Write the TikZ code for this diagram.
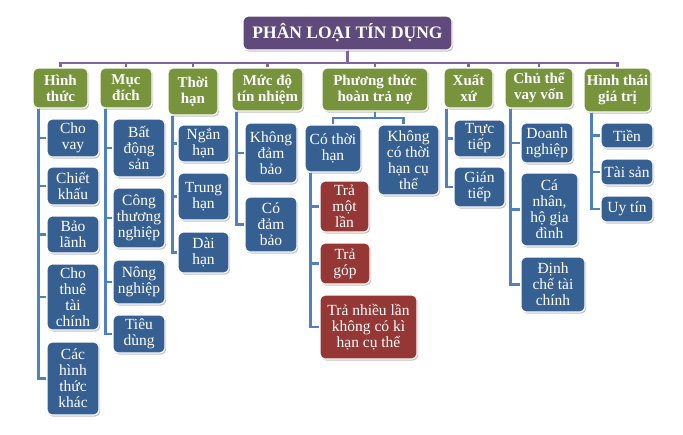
\documentclass[tikz,border=0pt]{standalone}
\usepackage{fontspec}
\setmainfont{Liberation Serif}
\usetikzlibrary{shadows}
\definecolor{ttl}{HTML}{604A7B}
\definecolor{grn}{HTML}{77933C}
\definecolor{blu}{HTML}{376092}
\definecolor{redbox}{HTML}{953735}
\definecolor{lnb}{HTML}{4F81BD}
\definecolor{lnp}{HTML}{8064A2}
\begin{document}
\begin{tikzpicture}[x=1pt,y=-1pt,
  box/.style={draw=white, line width=1.2pt, rounded corners=5pt, text=white, align=center, inner sep=1pt,
    drop shadow={shadow xshift=1.2pt, shadow yshift=-1.5pt, opacity=0.35, fill=black!70}},
  sz/.style 2 args={minimum width=#1pt, minimum height=#2pt},
  titlebox/.style={box, fill=ttl, font=\bfseries\fontsize{17.5}{20}\selectfont},
  catbox/.style={box, fill=grn, font=\bfseries\fontsize{15}{16}\selectfont},
  subbox/.style={box, fill=blu, font=\fontsize{15.5}{16}\selectfont},
  redsub/.style={box, fill=redbox, font=\fontsize{15.5}{16}\selectfont},
  pl/.style={draw=lnp, line width=2.2pt},
  bl/.style={draw=lnb, line width=2.2pt}
]
\useasboundingbox[fill=white] (0,0) rectangle (683,434);

% title and categories
\node[titlebox, sz={209}{34}] (title) at (347.5,33) {PHÂN LOẠI TÍN DỤNG};
\node[catbox, sz={55}{40}] (hinhthuc) at (60.5,88) {Hình\\thức};
\node[catbox, sz={52}{40}] (mucdich) at (126,88) {Mục\\đích};
\node[catbox, sz={50}{47}] (thoihan) at (193,91.5) {Thời\\hạn};
\node[catbox, sz={71}{43}] (mucdo) at (267.5,89.5) {Mức độ\\tín nhiệm};
\node[catbox, sz={106}{43}] (phuongthuc) at (375,89.5) {Phương thức\\hoàn trả nợ};
\node[catbox, sz={49}{40}] (xuatxu) at (468.5,88) {Xuất\\xứ};
\node[catbox, sz={68}{40}] (chuthe) at (539,88) {Chủ thể\\vay vốn};
\node[catbox, sz={67}{44}] (hinhthai) at (617.5,90) {Hình thái\\giá trị};

% Hinh thuc
\node[subbox, sz={52}{38}] (chovay) at (73,138) {Cho\\vay};
\node[subbox, sz={52}{38}] (chietkhau) at (73,186) {Chiết\\khấu};
\node[subbox, sz={52}{37}] (baolanh) at (73,234.5) {Bảo\\lãnh};
\node[subbox, sz={52}{66}] (chothue) at (73,297) {Cho\\thuê\\tài\\chính};
\node[subbox, sz={52}{73}] (cachinh) at (73,378.5) {Các\\hình\\thức\\khác};
% Muc dich
\node[subbox, sz={52}{58}] (batdongsan) at (139,148) {Bất\\động\\sản};
\node[subbox, sz={52}{60}] (congthuong) at (139,218) {Công\\thương\\nghiệp};
\node[subbox, sz={52}{44}] (nongnghiep) at (139,282) {Nông\\nghiệp};
\node[subbox, sz={52}{38}] (tieudung) at (139,334) {Tiêu\\dùng};
% Thoi han
\node[subbox, sz={51}{37}] (nganhan) at (203.5,143.5) {Ngắn\\hạn};
\node[subbox, sz={51}{47}] (trunghan) at (203.5,196.5) {Trung\\hạn};
\node[subbox, sz={51}{41}] (daihan) at (203.5,252.5) {Dài\\hạn};
% Muc do
\node[subbox, sz={52}{60}] (khongdambao) at (271,153) {Không\\đảm\\bảo};
\node[subbox, sz={52}{55}] (codambao) at (271,224.5) {Có\\đảm\\bảo};
% Phuong thuc
\node[subbox, sz={56}{47}] (cothoihan) at (333,148.5) {Có thời\\hạn};
\node[subbox, sz={61}{70}] (khongco) at (408.5,160) {Không\\có thời\\hạn cụ\\thể};
\node[redsub, sz={49}{51}] (tramotlan) at (344.5,206.5) {Trả\\một\\lần};
\node[redsub, sz={50}{41}] (tragop) at (345,263.5) {Trả\\góp};
\node[redsub, sz={97}{64}] (tranhieu) at (368.5,327) {Trả nhiều lần\\không có kì\\hạn cụ thể};
% Xuat xu
\node[subbox, sz={51}{37}] (tructiep) at (479.5,138.5) {Trực\\tiếp};
\node[subbox, sz={51}{40}] (giantiep) at (479.5,187) {Gián\\tiếp};
% Chu the
\node[subbox, sz={52}{40}] (doanhnghiep) at (547,143) {Doanh\\nghiệp};
\node[subbox, sz={57}{73}] (canhan) at (549.5,209.5) {Cá\\nhân,\\hộ gia\\đình};
\node[subbox, sz={64}{55}] (dinhche) at (553,284.5) {Định\\chế tài\\chính};
% Hinh thai
\node[subbox, sz={52}{25}] (tien) at (627,135.5) {Tiền};
\node[subbox, sz={52}{26}] (taisan) at (627,172) {Tài sản};
\node[subbox, sz={52}{26}] (uytin) at (627,209) {Uy tín};

% top-level connectors
\foreach \c in {hinhthuc,mucdich,thoihan,mucdo,phuongthuc,xuatxu,chuthe,hinhthai}
  \draw[pl] (title.south) -- ++(0,12) -| (\c.north);

% child connectors
\foreach \c in {chovay,chietkhau,baolanh,chothue,cachinh}
  \draw[bl] ([xshift=6pt]hinhthuc.south west) |- (\c.west);
\foreach \c in {batdongsan,congthuong,nongnghiep,tieudung}
  \draw[bl] ([xshift=6pt]mucdich.south west) |- (\c.west);
\foreach \c in {nganhan,trunghan,daihan}
  \draw[bl] ([xshift=5pt]thoihan.south west) |- (\c.west);
\foreach \c in {khongdambao,codambao}
  \draw[bl] ([xshift=5pt]mucdo.south west) |- (\c.west);
\draw[bl] (phuongthuc.south) -- ++(0,6) -| (cothoihan.north);
\draw[bl] (phuongthuc.south) -- ++(0,6) -| ([xshift=-5pt]khongco.north);
\foreach \c in {tramotlan,tragop,tranhieu}
  \draw[bl] ([xshift=6pt]cothoihan.south west) |- (\c.west);
\foreach \c in {tructiep,giantiep}
  \draw[bl] ([xshift=3pt]xuatxu.south west) |- (\c.west);
\foreach \c in {doanhnghiep,canhan,dinhche}
  \draw[bl] ([xshift=6pt]chuthe.south west) |- (\c.west);
\foreach \c in {tien,taisan,uytin}
  \draw[bl] ([xshift=8pt]hinhthai.south west) |- (\c.west);
\end{tikzpicture}
\end{document}
